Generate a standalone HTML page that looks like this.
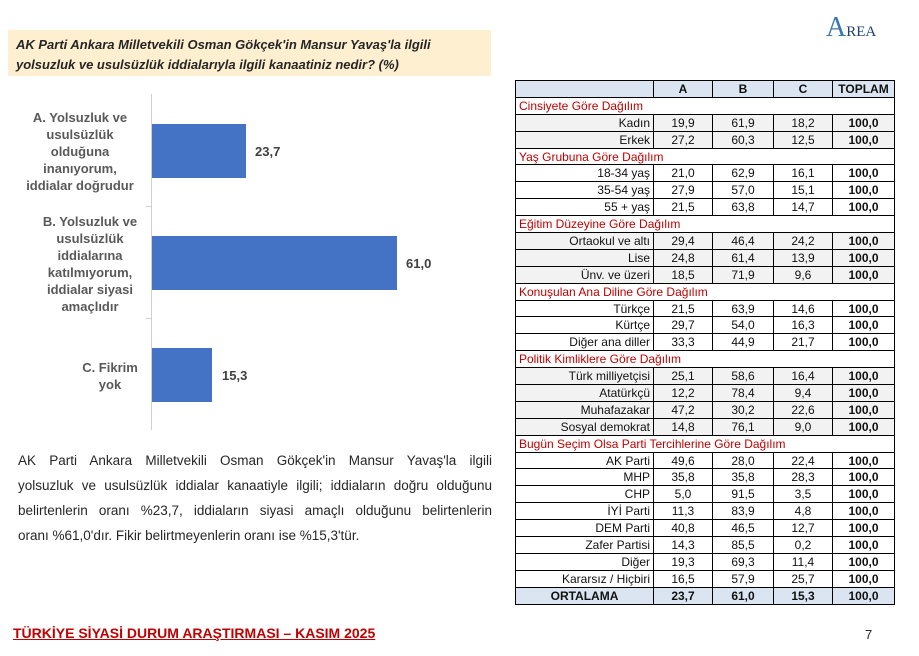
<!DOCTYPE html>
<html><head><meta charset="utf-8"><style>
body{margin:0;width:919px;height:656px;background:#fff;position:relative;font-family:"Liberation Sans",sans-serif;overflow:hidden}
.q{position:absolute;left:8px;top:30px;width:483px;height:46px;background:#fdefcf;font-weight:bold;font-style:italic;font-size:13px;color:#262626;padding:5px 0 0 8px;box-sizing:border-box;line-height:20px}
.lbl{position:absolute;font-weight:bold;color:#595959;font-size:13px;text-align:center;line-height:17px}
.bar{position:absolute;left:152px;background:#4472c4;height:54px}
.val{position:absolute;font-weight:bold;font-size:13px;color:#404040}
table{position:absolute;left:515px;top:80px;border-collapse:collapse;font-size:12px;color:#111}
td{border:1px solid #000;height:15.9px;padding:0 3px;line-height:14px;text-align:center}
td.l{text-align:right;width:131px}
.h td{background:#dbe5f1;font-weight:bold}
.s td{color:#c00000;text-align:left;border-left:1px solid #000;border-right:1px solid #000;background:#fff}
.g td{background:#f2f2f2}
td.b{font-weight:bold;width:55px}
.o td{background:#dbe5f1;font-weight:bold}
.txt{position:absolute;left:18px;top:448px;width:474px;font-size:13.5px;color:#262626;line-height:25px}
.txt div{text-align:justify;text-align-last:justify;height:25px}
.txt div.last{text-align-last:left}
</style></head><body>
<div class="q">AK Parti Ankara Milletvekili Osman Gökçek'in Mansur Yavaş'la ilgili<br>yolsuzluk ve usulsüzlük iddialarıyla ilgili kanaatiniz nedir? (%)</div>
<div style="position:absolute;left:826px;top:12px;font-family:'Liberation Serif',serif;color:#1f3f6e;font-size:20px"><span style="font-size:28px;color:#3a78b0">A</span><span style="font-size:15px">REA</span></div>
<div style="position:absolute;left:151px;top:94px;width:1px;height:336px;background:#d0d0d0"></div>
<div style="position:absolute;left:146px;top:206px;width:5px;height:1px;background:#d0d0d0"></div>
<div style="position:absolute;left:146px;top:318px;width:5px;height:1px;background:#d0d0d0"></div>
<div class="lbl" style="left:15px;top:109px;width:130px">A. Yolsuzluk ve<br>usulsüzlük<br>olduğuna<br>inanıyorum,<br>iddialar doğrudur</div>
<div class="lbl" style="left:30px;top:213px;width:120px">B. Yolsuzluk ve<br>usulsüzlük<br>iddialarına<br>katılmıyorum,<br>iddialar siyasi<br>amaçlıdır</div>
<div class="lbl" style="left:60px;top:359px;width:100px">C. Fikrim<br>yok</div>
<div class="bar" style="top:124px;width:94px"></div>
<div class="bar" style="top:236px;width:245px"></div>
<div class="bar" style="top:348px;width:60px"></div>
<div class="val" style="left:255px;top:144px">23,7</div>
<div class="val" style="left:406px;top:256px">61,0</div>
<div class="val" style="left:222px;top:368px">15,3</div>
<div class="txt">
<div>AK Parti Ankara Milletvekili Osman Gökçek'in Mansur Yavaş'la ilgili</div>
<div>yolsuzluk ve usulsüzlük iddialar kanaatiyle ilgili; iddiaların doğru olduğunu</div>
<div>belirtenlerin oranı %23,7, iddiaların siyasi amaçlı olduğunu belirtenlerin</div>
<div class="last">oranı %61,0'dır. Fikir belirtmeyenlerin oranı ise %15,3'tür.</div>
</div>
<table>
<tr class="h"><td class="l"></td><td style="width:52px">A</td><td style="width:54px">B</td><td style="width:52px">C</td><td style="width:55px">TOPLAM</td></tr>
<tr class="s"><td colspan="5">Cinsiyete Göre Dağılım</td></tr>
<tr class="g"><td class="l">Kadın</td><td>19,9</td><td>61,9</td><td>18,2</td><td class="b">100,0</td></tr>
<tr class="g"><td class="l">Erkek</td><td>27,2</td><td>60,3</td><td>12,5</td><td class="b">100,0</td></tr>
<tr class="s"><td colspan="5">Yaş Grubuna Göre Dağılım</td></tr>
<tr><td class="l">18-34 yaş</td><td>21,0</td><td>62,9</td><td>16,1</td><td class="b">100,0</td></tr>
<tr><td class="l">35-54 yaş</td><td>27,9</td><td>57,0</td><td>15,1</td><td class="b">100,0</td></tr>
<tr><td class="l">55 + yaş</td><td>21,5</td><td>63,8</td><td>14,7</td><td class="b">100,0</td></tr>
<tr class="s"><td colspan="5">Eğitim Düzeyine Göre Dağılım</td></tr>
<tr class="g"><td class="l">Ortaokul ve altı</td><td>29,4</td><td>46,4</td><td>24,2</td><td class="b">100,0</td></tr>
<tr class="g"><td class="l">Lise</td><td>24,8</td><td>61,4</td><td>13,9</td><td class="b">100,0</td></tr>
<tr class="g"><td class="l">Ünv. ve üzeri</td><td>18,5</td><td>71,9</td><td>9,6</td><td class="b">100,0</td></tr>
<tr class="s"><td colspan="5">Konuşulan Ana Diline Göre Dağılım</td></tr>
<tr><td class="l">Türkçe</td><td>21,5</td><td>63,9</td><td>14,6</td><td class="b">100,0</td></tr>
<tr><td class="l">Kürtçe</td><td>29,7</td><td>54,0</td><td>16,3</td><td class="b">100,0</td></tr>
<tr><td class="l">Diğer ana diller</td><td>33,3</td><td>44,9</td><td>21,7</td><td class="b">100,0</td></tr>
<tr class="s"><td colspan="5">Politik Kimliklere Göre Dağılım</td></tr>
<tr class="g"><td class="l">Türk milliyetçisi</td><td>25,1</td><td>58,6</td><td>16,4</td><td class="b">100,0</td></tr>
<tr class="g"><td class="l">Atatürkçü</td><td>12,2</td><td>78,4</td><td>9,4</td><td class="b">100,0</td></tr>
<tr class="g"><td class="l">Muhafazakar</td><td>47,2</td><td>30,2</td><td>22,6</td><td class="b">100,0</td></tr>
<tr class="g"><td class="l">Sosyal demokrat</td><td>14,8</td><td>76,1</td><td>9,0</td><td class="b">100,0</td></tr>
<tr class="s"><td colspan="5">Bugün Seçim Olsa Parti Tercihlerine Göre Dağılım</td></tr>
<tr><td class="l">AK Parti</td><td>49,6</td><td>28,0</td><td>22,4</td><td class="b">100,0</td></tr>
<tr><td class="l">MHP</td><td>35,8</td><td>35,8</td><td>28,3</td><td class="b">100,0</td></tr>
<tr><td class="l">CHP</td><td>5,0</td><td>91,5</td><td>3,5</td><td class="b">100,0</td></tr>
<tr><td class="l">İYİ Parti</td><td>11,3</td><td>83,9</td><td>4,8</td><td class="b">100,0</td></tr>
<tr><td class="l">DEM Parti</td><td>40,8</td><td>46,5</td><td>12,7</td><td class="b">100,0</td></tr>
<tr><td class="l">Zafer Partisi</td><td>14,3</td><td>85,5</td><td>0,2</td><td class="b">100,0</td></tr>
<tr><td class="l">Diğer</td><td>19,3</td><td>69,3</td><td>11,4</td><td class="b">100,0</td></tr>
<tr><td class="l">Kararsız / Hiçbiri</td><td>16,5</td><td>57,9</td><td>25,7</td><td class="b">100,0</td></tr>
<tr class="o"><td class="l" style="text-align:center">ORTALAMA</td><td>23,7</td><td>61,0</td><td>15,3</td><td>100,0</td></tr>
</table>
<div style="position:absolute;left:13px;top:625px;font-weight:bold;font-size:14px;color:#c00000;text-decoration:underline">TÜRKİYE SİYASİ DURUM ARAŞTIRMASI – KASIM 2025</div>
<div style="position:absolute;left:865px;top:627px;font-size:13px;color:#262626">7</div>
</body></html>
